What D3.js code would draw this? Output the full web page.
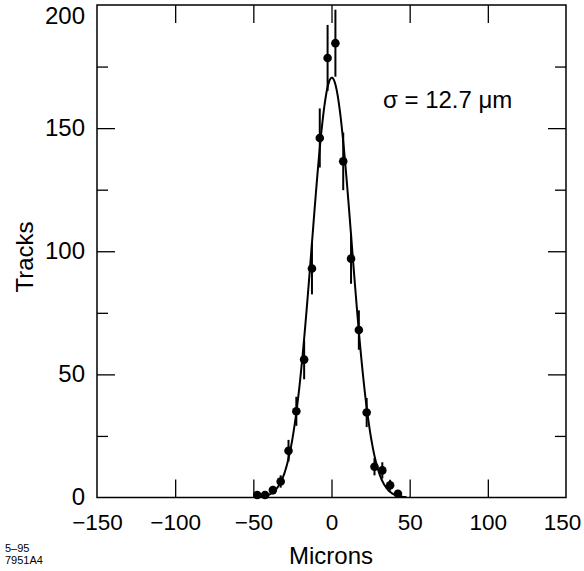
<!DOCTYPE html>
<html><head><meta charset="utf-8">
<script src="https://cdn.jsdelivr.net/npm/d3@7"></script>
<style>body{margin:0;background:#fff} svg{display:block} text{font-family:"Liberation Sans",Arial,Helvetica,sans-serif;fill:#000}</style>
</head><body><svg id="c" width="584" height="571"></svg>
<script>
// data
const binCenters = [-47.5,-42.5,-37.5,-32.5,-27.5,-22.5,-17.5,-12.5,-7.5,-2.5,2.5,7.5,12.5,17.5,22.5,27.5,32.5,37.5,42.5];
const tracks     = [1,1,3,6.5,19,35,56,93,146,178.5,184.5,136.5,97,68,34.5,12.5,11,5,1.5];
const trackErr   = [1,1,1.7,2.5,4.4,5.9,8,10.5,12,13.4,13.6,11.7,10.2,8,5.9,3.5,3.3,2.2,1.2];
// Gaussian fit parameters
const fitAmp = 170.5, fitMean = 0.2, fitSigma = 12.7;
const xTickLabels = [-150,-100,-50,0,50,100,150];
const xMajorTicks = [-100,-50,0,50,100];
const yTickLabels = [0,50,100,150,200];
const yMajorTicks = [50,100,150];
const yMinorTicks = [25,75,125,175];

const svg = d3.select("#c");
const L = 97, R = 566, T = 5, B = 497.5;
const FS = 24, FSX = 22.5;
const x = d3.scaleLinear().domain([-150,150]).range([L,R]);
const y = d3.scaleLinear().domain([0,200]).range([B,T]);
const fmt = d => d < 0 ? "\u2212" + Math.abs(d) : String(d);

// tick marks (inward)
const tickStyle = g => { g.select(".domain").remove(); g.selectAll("line").attr("stroke","#000").attr("stroke-width",1.3); };
svg.append("g").attr("transform",`translate(0,${B})`).call(d3.axisBottom(x).tickValues(xMajorTicks).tickSize(-18).tickFormat("")).call(tickStyle);
svg.append("g").attr("transform",`translate(0,${T})`).call(d3.axisTop(x).tickValues(xMajorTicks).tickSize(-18).tickFormat("")).call(tickStyle);
svg.append("g").attr("transform",`translate(${L},0)`).call(d3.axisLeft(y).tickValues(yMajorTicks).tickSize(-18).tickFormat("")).call(tickStyle);
svg.append("g").attr("transform",`translate(${L},0)`).call(d3.axisLeft(y).tickValues(yMinorTicks).tickSize(-11).tickFormat("")).call(tickStyle);
svg.append("g").attr("transform",`translate(${R},0)`).call(d3.axisRight(y).tickValues(yMajorTicks).tickSize(-18).tickFormat("")).call(tickStyle);
svg.append("g").attr("transform",`translate(${R},0)`).call(d3.axisRight(y).tickValues(yMinorTicks).tickSize(-11).tickFormat("")).call(tickStyle);

// tick labels
const gx = svg.append("g").attr("transform",`translate(0,${B})`)
  .call(d3.axisBottom(x).tickValues(xTickLabels).tickSize(0).tickFormat(fmt));
gx.select(".domain").remove();
gx.selectAll("text").attr("y",32).attr("dy","0").attr("font-size",FSX).attr("fill","#000").attr("font-family","Liberation Sans, Arial, sans-serif")
  .filter(d => d === 150).attr("dx",-4);
const gy = svg.append("g").attr("transform",`translate(${L},0)`)
  .call(d3.axisLeft(y).tickValues(yTickLabels).tickSize(0).tickPadding(12).tickFormat(fmt));
gy.select(".domain").remove();
gy.selectAll("text").attr("font-size",FS).attr("fill","#000").attr("dy","0.29em").attr("font-family","Liberation Sans, Arial, sans-serif")
  .filter(d => d === 200).attr("dy","0.79em");

// frame
svg.append("rect").attr("x",L).attr("y",T).attr("width",R-L).attr("height",B-T)
  .attr("fill","none").attr("stroke","#000").attr("stroke-width",1.5);

// fit curve
const curvePts = d3.range(-48, 48.01, 0.5).map(v => [v, fitAmp*Math.exp(-0.5*((v-fitMean)/fitSigma)**2)]);
svg.append("path").datum(curvePts)
  .attr("d", d3.line().x(d=>x(d[0])).y(d=>y(d[1])).curve(d3.curveMonotoneX))
  .attr("fill","none").attr("stroke","#000").attr("stroke-width",2);

// error bars and points
const pts = binCenters.map((c,i)=>({c, v:tracks[i], e:trackErr[i]}));
svg.append("g").selectAll("line").data(pts).join("line")
  .attr("x1",d=>x(d.c)).attr("x2",d=>x(d.c))
  .attr("y1",d=>y(d.v-d.e)).attr("y2",d=>y(d.v+d.e))
  .attr("stroke","#000").attr("stroke-width",2);
svg.append("g").selectAll("circle").data(pts).join("circle")
  .attr("cx",d=>x(d.c)).attr("cy",d=>y(d.v)).attr("r",4.3).attr("fill","#000");

// labels
svg.append("text").attr("x",383).attr("y",108).attr("font-size",FS).text("\u03C3 = 12.7 \u03BCm");
svg.append("text").attr("x",331).attr("y",564).attr("text-anchor","middle").attr("font-size",FS).text("Microns");
svg.append("text").attr("transform","translate(33,257) rotate(-90)").attr("text-anchor","middle").attr("font-size",FS).text("Tracks");
svg.append("text").attr("x",5).attr("y",552).attr("font-size",11).text("5\u201395");
svg.append("text").attr("x",5).attr("y",564).attr("font-size",11).text("7951A4");
</script></body></html>
